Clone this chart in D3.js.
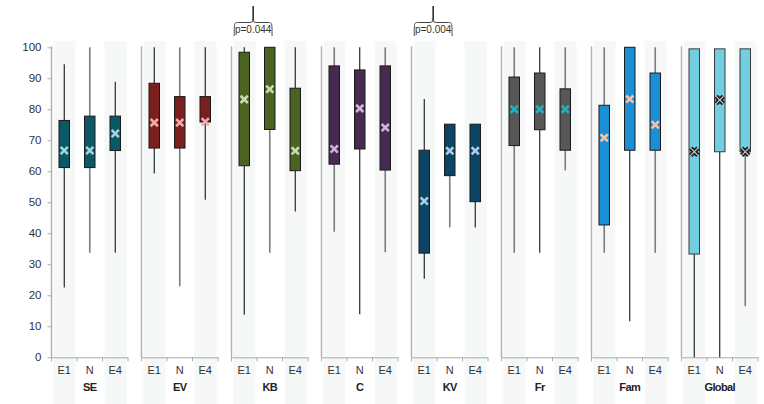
<!DOCTYPE html>
<html><head><meta charset="utf-8">
<script src="https://cdn.jsdelivr.net/npm/d3@7"></script>
<style>html,body{margin:0;padding:0;background:#fff;}svg{display:block;font-family:"Liberation Sans",Arial,sans-serif;}</style>
</head><body>
<svg id="chart" width="764" height="404"></svg>
<script>
const groups = ["SE","EV","KB","C","KV","Fr","Fam","Global"];
const categories = ["E1","N","E4"];
const whiskerLow  = [[22.5,33.7,33.7],[59.3,22.9,50.8],[13.7,33.7,47],[40.5,13.9,33.9],[25.3,41.9,41.9],[33.7,33.7,60.3],[33.7,11.6,33.7],[0,0,16.5]];
const boxLow      = [[61.2,61.2,66.7],[67.5,67.5,75.9],[61.8,73.5,60.2],[62.3,67.2,60.4],[33.6,58.6,50.2],[68.3,73.4,66.8],[42.7,66.8,66.8],[33.3,66.3,66.3]];
const boxHigh     = [[76.4,77.8,77.8],[88.4,84.1,84.1],[98.4,100,86.8],[94,92.7,94],[66.8,75.2,75.2],[90.4,91.7,86.6],[81.3,100,91.7],[99.5,99.5,99.5]];
const whiskerHigh = [[94.5,100,88.9],[100,100,100],[100,100,100],[100,100,100],[83.3,75.2,75.2],[100,100,100],[100,100,100],[99.5,99.5,99.5]];
const means       = [[66.7,66.7,72.2],[75.7,75.7,76],[83.2,86.5,66.6],[67.2,80.3,74.1],[50.4,66.6,66.6],[80,80,80],[70.8,83.3,75],[66.3,83,66.3]];
const yTicks = [0,10,20,30,40,50,60,70,80,90,100];
const brackets = [{group:"KB", from:"E1", to:"N", label:"p=0.044"},{group:"KV", from:"E1", to:"N", label:"p=0.004"}];

// styles
const fills = ["#0b5867","#7a1e1e","#4a6222","#472a52","#0b4464","#575757","#1a8fd6","#72cfe0"];
const meanColors = ["#a8d4dc","#f2aaaa","#c9dab3","#cdb6d6","#a9cde6","#1fb3c3","#f6c2a6","#cfd6dc"];
const whiskerDark = [[1,0,1],[1,0,1],[1,0,1],[0,1,0],[1,0,1],[0,1,0],[0,1,0],[1,1,0]];

const svg = d3.select("#chart");
const y = d3.scaleLinear().domain([0,100]).range([357.3,47.3]);
const xg = d3.scaleBand().domain(groups).range([51.5,758]).paddingInner(0.15).paddingOuter(0);
const xc = d3.scaleBand().domain(categories).range([0, xg.bandwidth()]).padding(0);
const boxW = 10.5;

// background bands
groups.forEach(g => {
  ["E1","E4"].forEach(c => {
    svg.append("rect").attr("x", xg(g)+xc(c)+2).attr("y", 41)
      .attr("width", xc.bandwidth()-3.5).attr("height", 404-41).attr("fill", "#f6f7f7");
  });
});

// main y axis labels
const ya = svg.append("g").attr("transform", `translate(${xg(groups[0])},0)`)
  .call(d3.axisLeft(y).tickValues(yTicks).tickSize(4).tickPadding(6).tickSizeOuter(0));
ya.select(".domain").remove();
ya.selectAll(".tick line").attr("stroke","#aaa");
ya.selectAll(".tick text").style("fill","#333").style("font-size","11.5px").style("font-family","Liberation Sans, Arial, sans-serif");

groups.forEach((g, gi) => {
  const gx = xg(g);
  const pg = svg.append("g").attr("transform", `translate(${gx},0)`);
  pg.append("line").attr("x1",0).attr("x2",0).attr("y1",y(100)-1).attr("y2",y(0)).attr("stroke","#b4b4b4").attr("stroke-width",1.5);
  const xa = pg.append("g").attr("transform", `translate(0,${y(0)})`)
    .call(d3.axisBottom(xc).tickSize(0).tickPadding(9));
  xa.select(".domain").attr("stroke","#aaa");
  xa.selectAll(".tick text").style("fill","#333").style("font-size","11px").style("font-family","Liberation Sans, Arial, sans-serif");
  const bounds = [0, ...categories.map(c => xc(c)+xc.bandwidth())];
  bounds.forEach(b => pg.append("line").attr("x1",b).attr("x2",b).attr("y1",y(0)).attr("y2",y(0)+4).attr("stroke","#aaa"));
  pg.append("text").attr("x", xg.bandwidth()/2).attr("y", 390.5).attr("text-anchor","middle")
    .style("fill","#222").style("font-size","11px").style("font-weight","bold").style("letter-spacing","-0.6px").text(g);

  categories.forEach((c, ci) => {
    const cx = xc(c) + xc.bandwidth()/2;
    const dark = whiskerDark[gi][ci];
    const ws = dark ? "#151515" : "#7d7d7d";
    const ww = dark ? 1.1 : 1.6;
    pg.append("line").attr("x1",cx).attr("x2",cx).attr("y1",y(whiskerLow[gi][ci])).attr("y2",y(boxLow[gi][ci])).attr("stroke",ws).attr("stroke-width",ww);
    pg.append("line").attr("x1",cx).attr("x2",cx).attr("y1",y(boxHigh[gi][ci])).attr("y2",y(whiskerHigh[gi][ci])).attr("stroke",ws).attr("stroke-width",ww);
    pg.append("rect").attr("x",cx-boxW/2).attr("y",y(boxHigh[gi][ci]))
      .attr("width",boxW).attr("height",y(boxLow[gi][ci])-y(boxHigh[gi][ci]))
      .attr("fill",fills[gi]).attr("stroke", g==="Global" ? "#3a3a3a" : "#1a1a1a").attr("stroke-width",1);
    const my = y(means[gi][ci]);
    const s = 3.6;
    const xpath = `M${cx-s},${my-s}L${cx+s},${my+s}M${cx+s},${my-s}L${cx-s},${my+s}`;
    if (g === "Global") {
      pg.append("path").attr("d", xpath).attr("stroke","#1c1c1c").attr("stroke-width",4.5).attr("fill","none");
      pg.append("path").attr("d", xpath).attr("stroke",meanColors[gi]).attr("stroke-width",1.1).attr("fill","none");
    } else {
      pg.append("path").attr("d", xpath).attr("stroke",meanColors[gi]).attr("stroke-width",2.6).attr("fill","none");
    }
  });
});

// brackets
brackets.forEach(b => {
  const gx = xg(b.group);
  const x1 = gx + xc(b.from) + xc.bandwidth()/2 - 10;
  const x2 = gx + xc(b.to) + xc.bandwidth()/2 + 2.3;
  const m = (x1 + x2)/2;
  const yt = 22.5, yb = 36, yp = 6;
  const d = `M${x1},${yb} C${x1},${yt} ${x1},${yt} ${x1+4},${yt} L${m-3},${yt} Q${m},${yt} ${m},${yt-3} Q${m},${yt} ${m+3},${yt} L${x2-4},${yt} C${x2},${yt} ${x2},${yt} ${x2},${yb}`;
  svg.append("path").attr("d", d).attr("fill","none").attr("stroke","#444").attr("stroke-width",1);
  svg.append("line").attr("x1",m).attr("x2",m).attr("y1",yt-2.5).attr("y2",yp).attr("stroke","#111").attr("stroke-width",1.4);
  svg.append("text").attr("x", m).attr("y", 32.5).attr("text-anchor","middle").style("fill","#333")
    .style("font-size","10px").text(b.label);
});
</script>
</body></html>
